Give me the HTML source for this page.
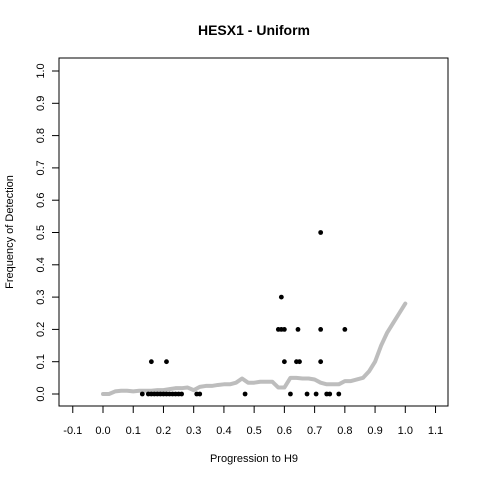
<!DOCTYPE html>
<html><head><meta charset="utf-8"><style>
html,body{margin:0;padding:0;background:#fff;}
svg{display:block;font-family:"Liberation Sans",sans-serif;}
</style></head><body>
<svg id="chart" width="480" height="480" viewBox="0 0 480 480">
<rect width="480" height="480" fill="#fff"/>
<text x="254" y="35" text-anchor="middle" font-size="14" font-weight="bold">HESX1 - Uniform</text>
<text x="254" y="462" text-anchor="middle" font-size="11">Progression to H9</text>
<text transform="translate(13,232) rotate(-90)" text-anchor="middle" font-size="11">Frequency of Detection</text>
<g id="axes"></g>
<g id="curve"></g>
<g id="points"></g>
<rect x="59" y="58" width="389" height="348" fill="none" stroke="#000" stroke-width="1"/>
</svg>
<script>
const xTicks=[-0.1,0,0.1,0.2,0.3,0.4,0.5,0.6,0.7,0.8,0.9,1.0,1.1];
const xTickLabels=["-0.1","0.0","0.1","0.2","0.3","0.4","0.5","0.6","0.7","0.8","0.9","1.0","1.1"];
const yTicks=[0,0.1,0.2,0.3,0.4,0.5,0.6,0.7,0.8,0.9,1.0];
const yTickLabels=["0.0","0.1","0.2","0.3","0.4","0.5","0.6","0.7","0.8","0.9","1.0"];
const curveX=[0,0.02,0.04,0.06,0.08,0.10,0.12,0.14,0.16,0.18,0.20,0.22,0.24,0.26,0.28,0.30,0.32,0.34,0.36,0.38,0.40,0.42,0.44,0.46,0.48,0.50,0.52,0.54,0.56,0.58,0.60,0.62,0.64,0.66,0.68,0.70,0.72,0.74,0.76,0.78,0.80,0.82,0.84,0.86,0.88,0.90,0.92,0.94,0.96,0.98,1.00];
const curveY=[0,0,0.008,0.01,0.01,0.008,0.01,0.01,0.01,0.012,0.012,0.015,0.018,0.018,0.02,0.012,0.022,0.025,0.025,0.028,0.03,0.03,0.035,0.048,0.035,0.035,0.038,0.038,0.038,0.02,0.02,0.05,0.05,0.048,0.048,0.045,0.035,0.03,0.03,0.03,0.04,0.04,0.045,0.05,0.07,0.1,0.15,0.19,0.22,0.25,0.28];
const ptX=[0.13,0.15,0.16,0.17,0.18,0.19,0.20,0.21,0.22,0.23,0.24,0.25,0.26,0.31,0.32,0.47,0.62,0.675,0.705,0.74,0.75,0.78,0.16,0.21,0.60,0.64,0.65,0.72,0.58,0.59,0.60,0.645,0.72,0.80,0.59,0.72];
const ptY=[0,0,0,0,0,0,0,0,0,0,0,0,0,0,0,0,0,0,0,0,0,0,0.1,0.1,0.1,0.1,0.1,0.1,0.2,0.2,0.2,0.2,0.2,0.2,0.3,0.5];
const sx=v=>103+v*302.3, sy=v=>394-v*323;
const NS="http://www.w3.org/2000/svg";
function mk(t,a,p){const e=document.createElementNS(NS,t);for(const k in a)e.setAttribute(k,a[k]);p.appendChild(e);return e;}
const axes=document.getElementById('axes');
xTicks.forEach((v,i)=>{
  const l=mk('line',{x1:sx(v),x2:sx(v),y1:406,y2:413,stroke:'#000'},axes);
  
  
  const t=mk('text',{x:sx(v),y:434,'text-anchor':'middle','font-size':'11'},axes);
  t.textContent=xTickLabels[i];
  
  
});
yTicks.forEach((v,i)=>{
  const l=mk('line',{x1:52,x2:59,y1:sy(v),y2:sy(v),stroke:'#000'},axes);
  
  
  const t=mk('text',{transform:`translate(44,${sy(v)}) rotate(-90)`,'text-anchor':'middle','font-size':'11'},axes);
  t.textContent=yTickLabels[i];
  
  
});
const pts=curveX.map((x,i)=>sx(x)+','+sy(curveY[i])).join(' ');
const pl=mk('polyline',{points:pts,fill:'none',stroke:'#bdbdbd','stroke-width':4,'stroke-linejoin':'round','stroke-linecap':'round'},document.getElementById('curve'));


const pg=document.getElementById('points');
ptX.forEach((x,i)=>{
  const c=mk('circle',{cx:sx(x),cy:sy(ptY[i]),r:2.4,fill:'#000'},pg);
  
  
});
</script>
</body></html>
